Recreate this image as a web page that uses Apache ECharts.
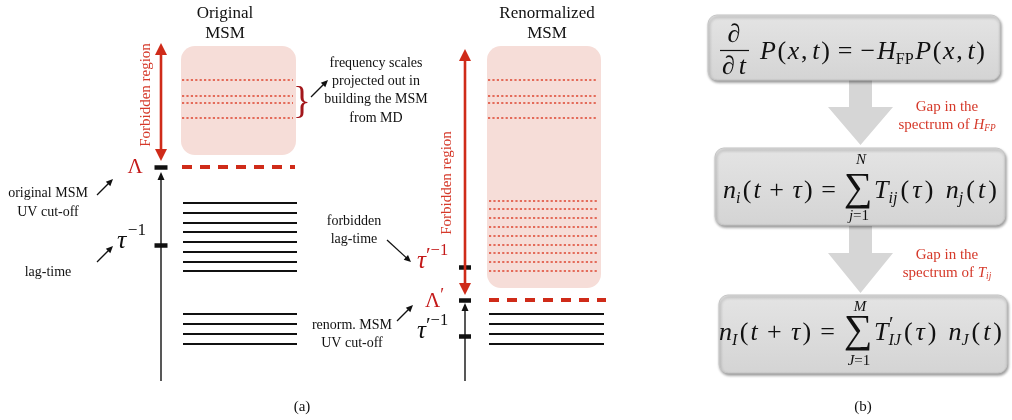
<!DOCTYPE html>
<html>
<head>
<meta charset="utf-8">
<script src="https://cdn.jsdelivr.net/npm/echarts@6/dist/echarts.min.js"></script>
<style>
  html, body { margin: 0; padding: 0; background: #ffffff; }
  #chart { width: 1012px; height: 420px; }
</style>
</head>
<body>
<div id="chart"></div>
<script>
// ---- Spectrum values (frequency scale, 0 = bottom of each axis) ----
const slowLevels = [67, 57, 47, 37];                                   // kept by both models
const originalFastLevels = [178, 168, 158, 149, 139, 129, 119, 110];   // kept only by the original MSM
const projectedOutLevels = [301, 285, 278, 263];                       // dropped when building the MSM from MD
const renormDroppedLevels = [180, 172, 163, 154, 145, 136, 128, 119, 110]; // dropped by the renormalized MSM
const originalCutoff = 214;     // Λ
const originalLagRate = 136;    // τ^-1
const renormCutoff = 81;        // Λ'
const forbiddenLagRate = 114;   // τ'^-1 (forbidden)
const renormLagRate = 45;       // τ'^-1
const forbiddenCeiling = 335;

const columnTitles = [['Original', 'MSM'], ['Renormalized', 'MSM']];
const noteFrequency = ['frequency scales', 'projected out in', 'building the MSM', 'from MD'];
const noteOriginalCutoff = ['original MSM', 'UV cut-off'];
const noteLagTime = ['lag-time'];
const noteForbiddenLag = ['forbidden', 'lag-time'];
const noteRenormCutoff = ['renorm. MSM', 'UV cut-off'];
const forbiddenLabel = 'Forbidden region';
const panelLabels = ['(a)', '(b)'];

// ---- styling / layout ----
const SERIF = '"Liberation Serif", "Times New Roman", serif';
const RED = '#cf2b19';
const DOT_RED = '#de4631';
const TEXT_RED = '#d5392a';
const LAMBDA_RED = '#c41a1a';
const BRACE_RED = '#a3171b';
const PINK = '#f6ddd8';
const BLACK = '#111111';

const cols = [
  { axis: 161, box: [181, 296], lv: [183, 297], dash: [182, 295], arrowTop: 338 },
  { axis: 465, box: [487, 601], lv: [489, 604], dash: [489, 606], arrowTop: 332 }
];

const chart = echarts.init(document.getElementById('chart'), null, { renderer: 'canvas' });

// ---- level segments ----
const solidStyle = { color: BLACK, width: 2, type: 'solid', opacity: 1 };
const dotStyle = { color: DOT_RED, width: 1.5, type: [2.2, 2.2], opacity: 1 };
const cutStyle = { color: RED, width: 4, type: [10, 8], opacity: 1 };
const tickStyle = { color: BLACK, width: 4.5, type: 'solid', opacity: 1 };

const seg = (xa, xb, e, style) => ({ coords: [[xa, e], [xb, e]], lineStyle: style });
const segments = [];
originalFastLevels.forEach(e => segments.push(seg(cols[0].lv[0], cols[0].lv[1], e, solidStyle)));
slowLevels.forEach(e => segments.push(seg(cols[0].lv[0], cols[0].lv[1], e, solidStyle)));
slowLevels.forEach(e => segments.push(seg(cols[1].lv[0], cols[1].lv[1], e, solidStyle)));
cols.forEach(c => projectedOutLevels.forEach(e =>
  segments.push(seg(c.box[0] + 1, c.box[1] - 3, e, dotStyle))));
renormDroppedLevels.forEach(e => segments.push(seg(cols[1].box[0] + 2, cols[1].box[1] - 3, e, dotStyle)));
segments.push(seg(cols[0].dash[0], cols[0].dash[1], originalCutoff, cutStyle));
segments.push(seg(cols[1].dash[0], cols[1].dash[1], renormCutoff, cutStyle));
[originalCutoff, originalLagRate].forEach(e => segments.push(seg(cols[0].axis - 6.5, cols[0].axis + 6.5, e, tickStyle)));
[renormCutoff, forbiddenLagRate, renormLagRate].forEach(e => segments.push(seg(cols[1].axis - 6, cols[1].axis + 6, e, tickStyle)));

// ---- vertical arrows: [x, from, to] ----
const arrowData = [
  [cols[0].axis, 0, originalCutoff - 5],
  [cols[1].axis, 0, renormCutoff - 3],
  [cols[0].axis, originalCutoff + 6, cols[0].arrowTop],
  [cols[1].axis, renormCutoff + 5, cols[1].arrowTop]
];
const arrowLook = [
  { color: BLACK, width: 1.4, len: 8, half: 3.5, both: false },
  { color: BLACK, width: 1.4, len: 8, half: 3.5, both: false },
  { color: RED, width: 2.6, len: 12, half: 6, both: true },
  { color: RED, width: 2.6, len: 12, half: 6, both: true }
];

function head(tip, dir, len, half) {
  const bx = tip[0] - dir[0] * len, by = tip[1] - dir[1] * len;
  return [[tip[0], tip[1]], [bx - dir[1] * half, by + dir[0] * half], [bx + dir[1] * half, by - dir[0] * half]];
}

const boxData = [
  [cols[0].box[0], cols[0].box[1], originalCutoff + 12, forbiddenCeiling],
  [cols[1].box[0], cols[1].box[1], renormCutoff + 12, forbiddenCeiling]
];

chart.setOption({
  animation: false,
  grid: { left: 0, right: 0, top: 0, bottom: 0 },
  xAxis: { type: 'value', min: 0, max: 1012, show: false },
  yAxis: { type: 'value', min: -39, max: 381, show: false },
  series: [
    {
      type: 'custom',
      name: 'forbidden boxes',
      silent: true,
      z: 1,
      data: boxData,
      renderItem(params, api) {
        const a = api.coord([api.value(0), api.value(3)]);
        const b = api.coord([api.value(1), api.value(2)]);
        return {
          type: 'rect',
          shape: { x: a[0], y: a[1], width: b[0] - a[0], height: b[1] - a[1], r: 14 },
          style: { fill: PINK }
        };
      }
    },
    {
      type: 'lines',
      name: 'levels',
      coordinateSystem: 'cartesian2d',
      silent: true,
      z: 3,
      symbol: 'none',
      data: segments
    },
    {
      type: 'custom',
      name: 'arrows',
      silent: true,
      z: 4,
      data: arrowData,
      renderItem(params, api) {
        const look = arrowLook[params.dataIndex];
        const p0 = api.coord([api.value(0), api.value(1)]);
        const p1 = api.coord([api.value(0), api.value(2)]);
        const L = Math.hypot(p1[0] - p0[0], p1[1] - p0[1]);
        const d = [(p1[0] - p0[0]) / L, (p1[1] - p0[1]) / L];
        const s0 = look.both ? [p0[0] + d[0] * look.len * 0.8, p0[1] + d[1] * look.len * 0.8] : p0;
        const s1 = [p1[0] - d[0] * look.len * 0.8, p1[1] - d[1] * look.len * 0.8];
        const children = [
          { type: 'line', shape: { x1: s0[0], y1: s0[1], x2: s1[0], y2: s1[1] },
            style: { stroke: look.color, lineWidth: look.width } },
          { type: 'polygon', shape: { points: head(p1, d, look.len, look.half) }, style: { fill: look.color } }
        ];
        if (look.both) {
          children.push({ type: 'polygon', shape: { points: head(p0, [-d[0], -d[1]], look.len, look.half) },
            style: { fill: look.color } });
        }
        return { type: 'group', children };
      }
    }
  ]
});

// ---- text helpers ----
const measureCtx = document.createElement('canvas').getContext('2d');
const textW = (t, font) => { measureCtx.font = font; return measureCtx.measureText(t).width; };
const fontOf = (p, size) => (p.it ? 'italic ' : '') + size + 'px ' + SERIF;

function label(text, x, y, size, color, opts) {
  const o = opts || {};
  return {
    type: 'text', x, y, silent: true, rotation: o.rotation || 0, z: 100,
    style: {
      text, font: (o.italic ? 'italic ' : '') + size + 'px ' + SERIF, fill: color,
      align: o.align || 'center', verticalAlign: 'middle',
      textAlign: o.align || 'center', textVerticalAlign: 'middle'
    }
  };
}
function lines(arr, x, y0, step, size, color) {
  return arr.map((t, i) => label(t, x, y0 + i * step, size, color));
}

// A row of math pieces laid out left to right.  {g: w} entries are stretchable
// spaces; a light tracking is also put between full-size glyphs.  When o.width is
// given, the spare room is shared out by those weights.
const I = (t, o) => Object.assign({ t, it: true }, o || {});
const R = (t, o) => Object.assign({ t, it: false }, o || {});
const G = w => ({ g: w });
const SUB = { s: 0.62, dy: 0.3 };
const SUP = { s: 0.66, dy: -0.42 };
const PRIME = { s: 0.85, dy: -0.2 };
function mathRow(pieces, o) {
  const size = o.size, track = o.track === undefined ? 0.5 : o.track;
  let natural = 0, weights = 0, first = true;
  const info = pieces.map(p => {
    if (p.g !== undefined) { weights += p.g; return { w: 0, before: p.g }; }
    const w = p.noAdv ? 0 : textW(p.t, fontOf(p, size * (p.s || 1)));
    const before = first || p.s || p.noAdv ? 0 : track;
    first = false;
    natural += w; weights += before;
    return { w, before };
  });
  const unit = o.width ? (o.width - natural) / weights : size * 0.06;
  const total = natural + unit * weights;
  let cx = o.align === 'center' ? o.x - total / 2 : o.x;
  const out = [];
  pieces.forEach((p, i) => {
    cx += info[i].before * unit;
    if (p.g !== undefined) return;
    out.push({
      type: 'text', x: cx + (p.dx || 0) * size, y: o.y + (p.dy || 0) * size, silent: true, z: 100,
      style: { text: p.t, font: fontOf(p, size * (p.s || 1)), fill: o.color, align: 'left', verticalAlign: 'middle',
               textAlign: 'left', textVerticalAlign: 'middle' }
    });
    cx += info[i].w;
  });
  return out;
}

function pointer(x0, y0, x1, y1) {
  const L = Math.hypot(x1 - x0, y1 - y0);
  const d = [(x1 - x0) / L, (y1 - y0) / L];
  return [
    { type: 'line', silent: true, z: 100, shape: { x1: x0, y1: y0, x2: x1 - d[0] * 5, y2: y1 - d[1] * 5 },
      style: { stroke: BLACK, lineWidth: 1.3 } },
    { type: 'polygon', silent: true, z: 100, shape: { points: head([x1, y1], d, 7, 3.2) }, style: { fill: BLACK } }
  ];
}

const py = e => chart.convertToPixel({ gridIndex: 0 }, [0, e])[1];
const els = [];

// ---- panel (a) ----
els.push(...lines(columnTitles[0], 225, 14, 20, 17, BLACK));
els.push(...lines(columnTitles[1], 547, 14, 20, 17, BLACK));
els.push(label(forbiddenLabel, 146, 95, 15, TEXT_RED, { rotation: Math.PI / 2 }));
els.push(label(forbiddenLabel, 447, 183, 15, TEXT_RED, { rotation: Math.PI / 2 }));
els.push(label('}', 302, py((projectedOutLevels[0] + projectedOutLevels[3]) / 2) + 4, 37, BRACE_RED));
els.push(...lines(noteFrequency, 376, 63, 18.3, 14, BLACK));
els.push(...pointer(311, 97, 328, 80));
els.push(...lines(noteOriginalCutoff, 48, 193, 19, 14, BLACK));
els.push(...pointer(97, 195, 113, 179));
els.push(...lines(noteLagTime, 48, 272, 19, 14, BLACK));
els.push(...pointer(97, 262, 113, 246));
els.push(...lines(noteForbiddenLag, 354, 221, 18.5, 14, BLACK));
els.push(...pointer(387, 240, 411, 262));
els.push(...lines(noteRenormCutoff, 352, 325, 18.5, 14, BLACK));
els.push(...pointer(397, 321, 413, 305));

// cut-off and lag-time symbols next to their ticks
els.push(label('Λ', 135, py(originalCutoff), 21, LAMBDA_RED));
els.push(...mathRow([R('Λ'), R('′', PRIME)], { x: 425, y: py(renormCutoff) + 1, size: 21, track: 0, color: LAMBDA_RED }));
els.push(...mathRow([I('τ'), G(1), R('−1', SUP)], { x: 117, y: py(originalLagRate) - 4, size: 26, color: BLACK }));
els.push(...mathRow([I('τ'), R('′', PRIME), R('−1', SUP)], { x: 417, y: py(forbiddenLagRate) - 6, size: 25, color: LAMBDA_RED }));
els.push(...mathRow([I('τ'), R('′', PRIME), R('−1', SUP)], { x: 417, y: py(renormLagRate) - 5, size: 25, color: BLACK }));
els.push(label(panelLabels[0], 302, 407, 15, BLACK));

// ---- panel (b): pipeline ----
const GRAY = '#d6d6d6';
function grayBox(x, y, w, h) {
  return {
    type: 'rect', silent: true, z: 50,
    shape: { x, y, width: w, height: h, r: 9 },
    style: {
      fill: new echarts.graphic.LinearGradient(0, 0, 0, 1, [
        { offset: 0, color: '#e4e4e4' }, { offset: 1, color: '#d4d4d4' }
      ]),
      stroke: '#c6c6c6', lineWidth: 1,
      shadowBlur: 3, shadowOffsetX: 1, shadowOffsetY: 2, shadowColor: 'rgba(0,0,0,0.4)'
    }
  };
}
function grayArrow(top, base, tip) {
  return {
    type: 'polygon', silent: true, z: 40,
    shape: { points: [[849, top], [872, top], [872, base], [893, base], [860.5, tip], [828, base], [849, base]] },
    style: { fill: GRAY }
  };
}
els.push(grayArrow(80, 107, 145));
els.push(grayArrow(226, 253, 293));
els.push(grayBox(708, 15, 292, 65));
els.push(grayBox(715, 148, 290, 77));
els.push(grayBox(719, 295, 288, 78));

const EQ = 26;
// ∂P/∂t = −H_FP P
els.push(label('∂', 734, 35, EQ, BLACK, { italic: true }));
els.push({ type: 'line', silent: true, z: 100, shape: { x1: 720, y1: 50.5, x2: 749, y2: 50.5 }, style: { stroke: BLACK, lineWidth: 1.2 } });
els.push(...mathRow([I('∂'), G(1), I('t')], { x: 734, y: 67, size: EQ, width: 24, color: BLACK, align: 'center' }));
els.push(...mathRow([I('P'), R('('), I('x'), R(','), G(1), I('t'), R(')'), G(2), R('='), G(2), R('−'), I('H'), R('FP', SUB), I('P'),
  R('('), I('x'), R(','), G(1), I('t'), R(')')], { x: 760, y: 52, size: EQ, width: 225, color: BLACK }));

// n_i(t+τ) = Σ T_ij(τ) n_j(t)
els.push(...mathRow([I('n'), I('i', SUB), R('('), I('t'), G(1.5), R('+'), G(1.5), I('τ'), R(')'), G(1.5), R('=')],
  { x: 723, y: 191, size: EQ, width: 113, color: BLACK }));
els.push(label('∑', 858, 189, 40, BLACK));
els.push(label('N', 861, 160, 15, BLACK, { italic: true }));
els.push(...mathRow([I('j'), R('=1')], { x: 859, y: 216, size: 15, track: 0, color: BLACK, align: 'center' }));
els.push(...mathRow([I('T'), I('ij', SUB), R('('), I('τ'), R(')'), G(1.5), I('n'), I('j', SUB), R('('), I('t'), R(')')],
  { x: 874, y: 191, size: EQ, width: 123, color: BLACK }));

// n_I(t+τ) = Σ T'_IJ(τ) n_J(t)
els.push(...mathRow([I('n'), I('I', SUB), R('('), I('t'), G(1.5), R('+'), G(1.5), I('τ'), R(')'), G(1.5), R('=')],
  { x: 719, y: 333, size: EQ, width: 116, color: BLACK }));
els.push(label('∑', 858, 331, 40, BLACK));
els.push(label('M', 860, 307, 15, BLACK, { italic: true }));
els.push(...mathRow([I('J'), R('=1')], { x: 859, y: 361, size: 15, track: 0, color: BLACK, align: 'center' }));
els.push(...mathRow([I('T'), R('′', { noAdv: true, dx: 0.02, s: 0.8, dy: -0.27 }), I('IJ', SUB), R('('), I('τ'), R(')'), G(1.5),
  I('n'), I('J', SUB), R('('), I('t'), R(')')],
  { x: 874, y: 333, size: EQ, width: 128, color: BLACK }));

// red notes between the steps
els.push(label('Gap in the', 947, 107, 15, TEXT_RED));
els.push(...mathRow([R('spectrum of '), I('H'), I('FP', { s: 0.62, dy: 0.22 })], { x: 947, y: 125, size: 15, track: 0, color: TEXT_RED, align: 'center' }));
els.push(label('Gap in the', 947, 255, 15, TEXT_RED));
els.push(...mathRow([R('spectrum of '), I('T'), I('ij', { s: 0.62, dy: 0.22 })], { x: 947, y: 273, size: 15, track: 0, color: TEXT_RED, align: 'center' }));
els.push(label(panelLabels[1], 863, 407, 15, BLACK));

chart.setOption({ graphic: { elements: els } });
</script>
</body>
</html>
